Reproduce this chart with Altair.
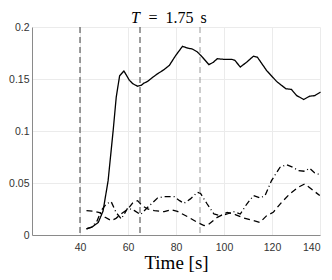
import altair as alt
import pandas as pd

# ---- data ----
solid_t = [42.7, 44.8, 47.6, 49.6, 51.7, 53.8, 55.1, 56.5, 58.3, 60.6, 62.0, 64.0, 65.5, 66.6,
           68.2, 70.5, 72.3, 75.0, 77.2, 79.9, 82.7, 84.8, 86.8, 88.9, 91.0, 93.7, 95.5, 97.2,
           99.9, 103.3, 104.5, 106.8, 109.5, 112.3, 113.9, 117.8, 121.9, 125.8, 128.1, 130.2,
           133.2, 135.7, 137.8, 140.2]
solid_v = [0.006, 0.0073, 0.012, 0.023, 0.052, 0.100, 0.1326, 0.153, 0.1577, 0.1487, 0.1455,
           0.143, 0.1439, 0.146, 0.1477, 0.152, 0.155, 0.159, 0.163, 0.1727, 0.1814, 0.1798,
           0.1788, 0.176, 0.171, 0.1638, 0.166, 0.1695, 0.1689, 0.1689, 0.168, 0.1615, 0.1663,
           0.172, 0.171, 0.158, 0.1477, 0.1406, 0.140, 0.1342, 0.1303, 0.1335, 0.134, 0.1374]

dashed_t = [42.7, 45.5, 48.2, 50.5, 53.0, 55.0, 57.5, 60.0, 62.0, 64.0, 66.0, 68.2, 71.0, 75.1,
            77.9, 80.6, 84.8, 88.9, 91.7, 93.8, 97.2, 101.3, 104.7, 108.1, 112.3, 115.0, 117.8,
            120.5, 124.0, 127.4, 130.9, 133.6, 136.4, 139.9]
dashed_v = [0.0234, 0.0230, 0.0215, 0.0170, 0.0138, 0.0160, 0.0210, 0.0250, 0.0310, 0.0330,
            0.0280, 0.0250, 0.0234, 0.0224, 0.0244, 0.0227, 0.0176, 0.0121, 0.0090, 0.0106,
            0.0170, 0.0218, 0.0196, 0.0164, 0.0138, 0.0121, 0.0186, 0.0218, 0.0314, 0.0395,
            0.0459, 0.0491, 0.0443, 0.0379]

dashdot_t = [42.7, 44.8, 47.0, 49.0, 51.0, 53.0, 55.0, 57.2, 59.9, 62.7, 65.2, 68.2, 72.3, 75.1,
             79.2, 81.5, 83.3, 86.0, 88.9, 90.2, 93.0, 95.8, 98.5, 101.3, 104.0, 106.8, 109.5,
             112.3, 115.0, 117.1, 119.8, 123.3, 126.0, 128.8, 130.9, 133.6, 135.7, 137.8, 140.2]
dashdot_v = [0.0060, 0.0075, 0.0130, 0.0240, 0.0300, 0.0320, 0.0218, 0.0154, 0.0260, 0.0234,
             0.0196, 0.0266, 0.0356, 0.0369, 0.0369, 0.0330, 0.0305, 0.0347, 0.0410, 0.0400,
             0.0298, 0.0202, 0.0186, 0.0202, 0.0224, 0.0202, 0.0298, 0.0379, 0.0356, 0.0379,
             0.0523, 0.0650, 0.0677, 0.0650, 0.0620, 0.0613, 0.0642, 0.0597, 0.0578]

series_names = ["solid", "dashed", "dashdot"]
vlines = [40, 65, 90]
vline_colors = ["#3c3c3c", "#3c3c3c", "#9a9a9a"]
xticks = [40, 60, 80, 100, 120, 140]
yticks = [0, 0.05, 0.1, 0.15, 0.2]
title_parts = ["T", "=", "1.75", "s"]
x_title = "Time [s]"

# ---- tables ----
rows = []
for name, ts, vs in zip(series_names, [solid_t, dashed_t, dashdot_t],
                        [solid_v, dashed_v, dashdot_v]):
    for t, v in zip(ts, vs):
        rows.append({"t": t, "v": v, "series": name})
df = pd.DataFrame(rows)
vdf = pd.DataFrame({"t": vlines, "c": vline_colors})

W, H = 288, 208

xscale = alt.Scale(domain=[20, 140], nice=False, zero=False)
yscale = alt.Scale(domain=[0, 0.2], nice=False)

rules = alt.Chart(vdf).mark_rule(strokeDash=[6, 4], strokeWidth=1).encode(
    x=alt.X("t:Q", scale=xscale),
    color=alt.Color("c:N", scale=None),
)

lines = alt.Chart(df).mark_line(strokeWidth=1.3, color="black").encode(
    x=alt.X("t:Q", scale=xscale,
            axis=alt.Axis(values=xticks, title=x_title, grid=True)),
    y=alt.Y("v:Q", scale=yscale,
            axis=alt.Axis(values=yticks, title=None, format="~g", grid=True)),
    strokeDash=alt.StrokeDash("series:N",
                              scale=alt.Scale(domain=series_names,
                                              range=[[1, 0], [6, 4], [6, 3, 1, 3]]),
                              legend=None),
    order="t:Q",
)

tdf = pd.DataFrame({"txt": title_parts, "i": [0, 1, 2, 3]})
tdf["px"] = [99, 116.5, 133.5, 168.5]
title_it = alt.Chart(tdf[tdf.i == 0]).mark_text(
    font="Liberation Serif", fontSize=16, fontStyle="italic", align="left",
    baseline="alphabetic", color="black"
).encode(text="txt:N", x=alt.X("px:Q", scale=None), y=alt.value(-4))
title_rm = alt.Chart(tdf[tdf.i > 0]).mark_text(
    font="Liberation Serif", fontSize=16, align="left",
    baseline="alphabetic", color="black"
).encode(text="txt:N", x=alt.X("px:Q", scale=None), y=alt.value(-4))

chart = alt.layer(lines, rules, title_it, title_rm).properties(
    width=W, height=H,
    autosize=alt.AutoSizeParams(type="none"),
    padding={"left": 24, "top": 19, "right": 4, "bottom": 45},
).configure_view(stroke=None).configure_axis(
    domainColor="#8a8a8a", domainWidth=1, gridColor="#ebebeb", gridWidth=1,
    ticks=False, labelFont="Liberation Sans", labelFontSize=10.5,
    labelColor="#333333", titleFont="Liberation Serif", titleFontSize=19,
    titleFontWeight="normal", titleColor="black",
).configure_axisX(labelPadding=7, titlePadding=1).configure_axisY(labelPadding=3)

chart.save("out.html", embed_options={"renderer": "svg", "actions": False})
